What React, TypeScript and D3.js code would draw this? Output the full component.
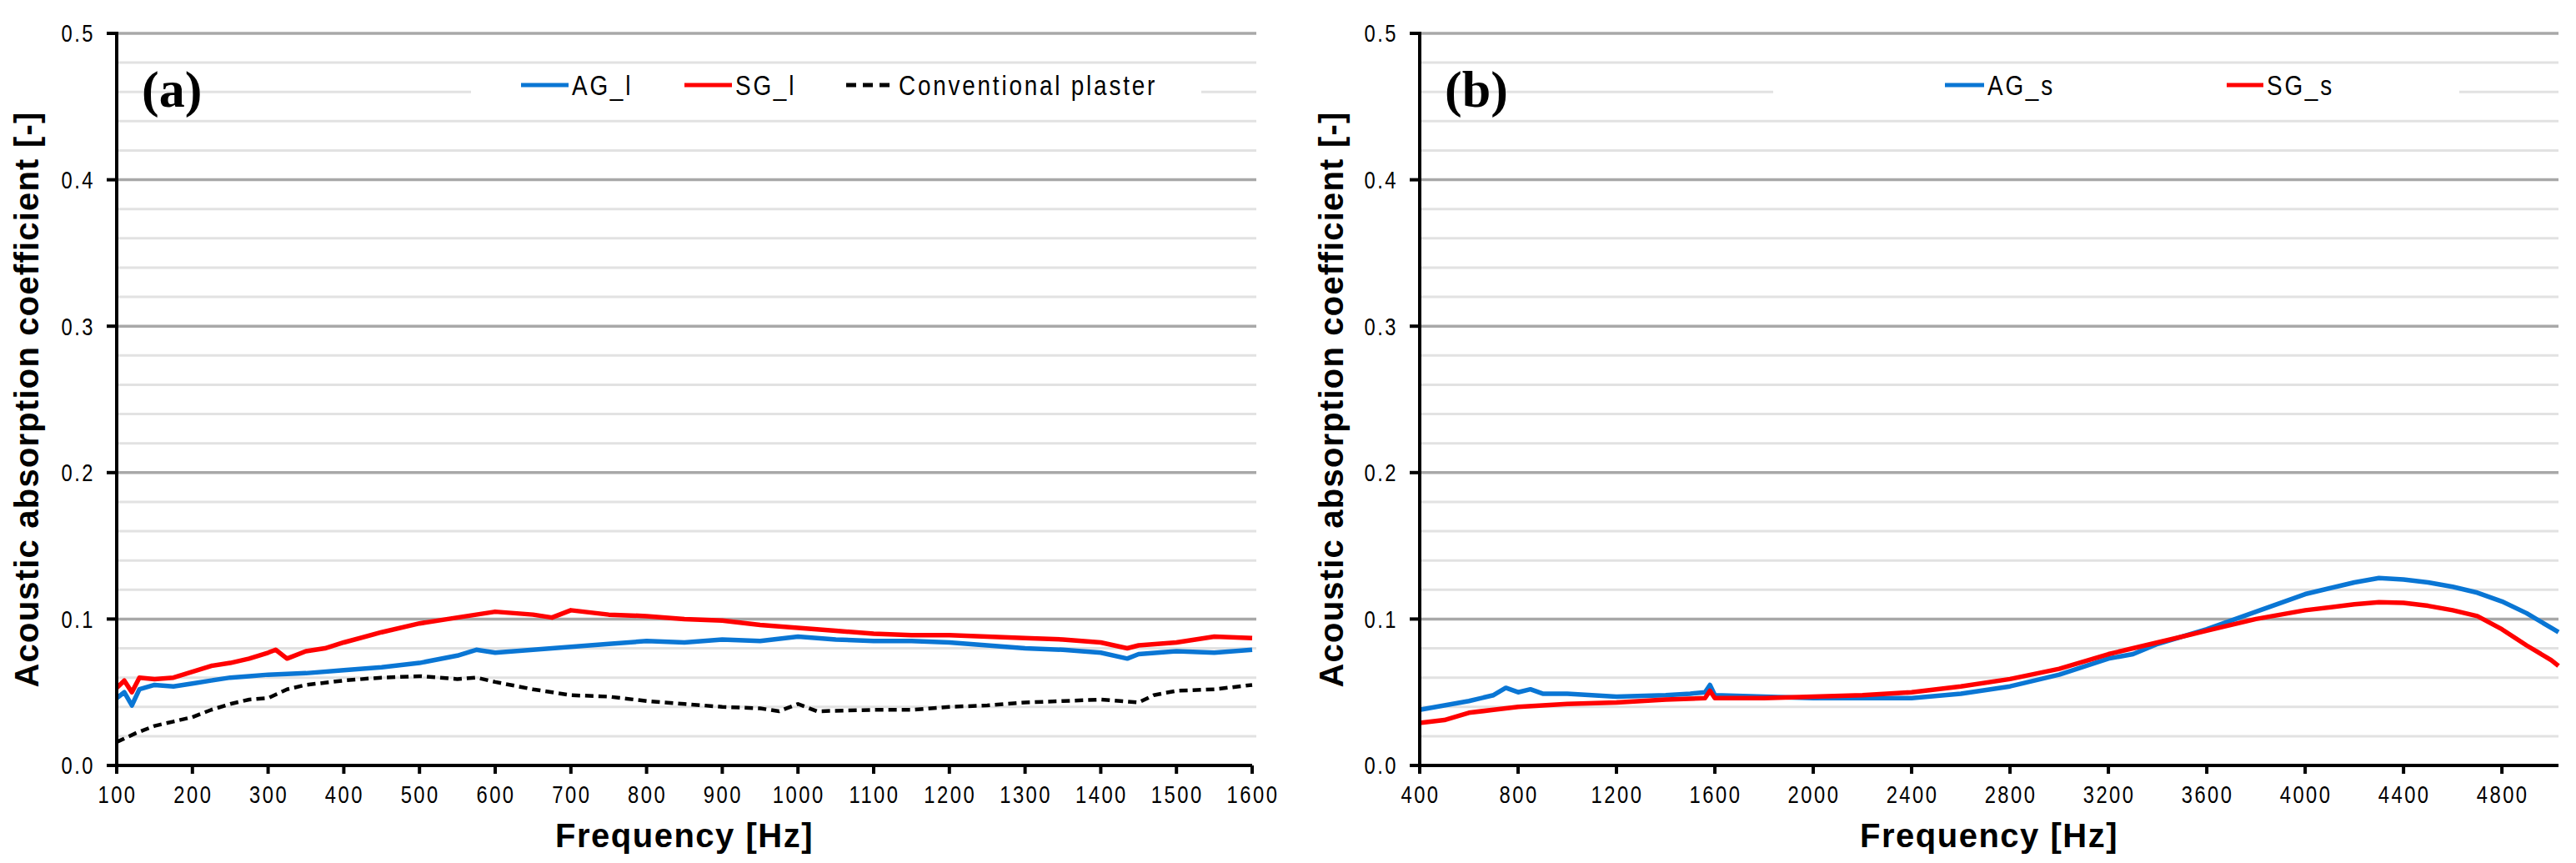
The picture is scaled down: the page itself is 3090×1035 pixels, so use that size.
import React, { useEffect } from "react";
import * as d3 from "d3";

// ---------- DATA ----------
const yTicks = [0.0, 0.1, 0.2, 0.3, 0.4, 0.5];
const yMinor = [0.02, 0.04, 0.06, 0.08, 0.12, 0.14, 0.16, 0.18, 0.22, 0.24, 0.26, 0.28, 0.32, 0.34, 0.36, 0.38, 0.42, 0.44, 0.46, 0.48];

const xTicksA = [100, 200, 300, 400, 500, 600, 700, 800, 900, 1000, 1100, 1200, 1300, 1400, 1500, 1600];
const xTicksB = [400, 800, 1200, 1600, 2000, 2400, 2800, 3200, 3600, 4000, 4400, 4800];

const freqAG_l = [100, 110, 120, 130, 150, 175, 200, 225, 250, 275, 300, 350, 400, 450, 500, 550, 575, 600, 650, 700, 750, 800, 850, 900, 950, 1000, 1050, 1100, 1150, 1200, 1250, 1300, 1350, 1400, 1435, 1450, 1500, 1550, 1600];
const valAG_l = [0.046, 0.050, 0.041, 0.052, 0.055, 0.054, 0.056, 0.058, 0.060, 0.061, 0.062, 0.063, 0.065, 0.067, 0.070, 0.075, 0.079, 0.077, 0.079, 0.081, 0.083, 0.085, 0.084, 0.086, 0.085, 0.088, 0.086, 0.085, 0.085, 0.084, 0.082, 0.080, 0.079, 0.077, 0.073, 0.076, 0.078, 0.077, 0.079];

const freqSG_l = [100, 110, 120, 130, 150, 175, 200, 225, 250, 275, 300, 310, 325, 350, 375, 400, 450, 500, 550, 600, 650, 675, 700, 750, 800, 850, 900, 950, 1000, 1050, 1100, 1150, 1200, 1250, 1300, 1350, 1400, 1435, 1450, 1500, 1550, 1600];
const valSG_l = [0.053, 0.058, 0.050, 0.060, 0.059, 0.060, 0.064, 0.068, 0.070, 0.073, 0.077, 0.079, 0.073, 0.078, 0.080, 0.084, 0.091, 0.097, 0.101, 0.105, 0.103, 0.101, 0.106, 0.103, 0.102, 0.100, 0.099, 0.096, 0.094, 0.092, 0.090, 0.089, 0.089, 0.088, 0.087, 0.086, 0.084, 0.080, 0.082, 0.084, 0.088, 0.087];

const freqConv = [100, 125, 150, 175, 200, 225, 250, 275, 300, 325, 350, 400, 450, 500, 550, 575, 600, 650, 700, 750, 800, 850, 900, 950, 975, 1000, 1025, 1100, 1150, 1200, 1250, 1300, 1350, 1400, 1450, 1470, 1500, 1550, 1600];
const valConv = [0.016, 0.022, 0.027, 0.030, 0.033, 0.038, 0.042, 0.045, 0.046, 0.052, 0.055, 0.058, 0.060, 0.061, 0.059, 0.060, 0.057, 0.052, 0.048, 0.047, 0.044, 0.042, 0.040, 0.039, 0.037, 0.042, 0.037, 0.038, 0.038, 0.040, 0.041, 0.043, 0.044, 0.045, 0.043, 0.048, 0.051, 0.052, 0.055];

const freqAG_s = [400, 500, 600, 700, 750, 800, 850, 900, 1000, 1100, 1200, 1400, 1500, 1560, 1580, 1600, 1800, 2000, 2200, 2400, 2600, 2800, 3000, 3200, 3300, 3400, 3600, 3800, 4000, 4200, 4300, 4400, 4500, 4600, 4700, 4800, 4900, 5000, 5030];
const valAG_s = [0.038, 0.041, 0.044, 0.048, 0.053, 0.050, 0.052, 0.049, 0.049, 0.048, 0.047, 0.048, 0.049, 0.050, 0.055, 0.048, 0.047, 0.046, 0.046, 0.046, 0.049, 0.054, 0.062, 0.073, 0.076, 0.083, 0.093, 0.105, 0.117, 0.125, 0.128, 0.127, 0.125, 0.122, 0.118, 0.112, 0.104, 0.094, 0.091];

const freqSG_s = [400, 500, 600, 700, 800, 900, 1000, 1200, 1400, 1560, 1580, 1600, 1800, 2000, 2200, 2400, 2600, 2800, 3000, 3200, 3400, 3600, 3800, 4000, 4200, 4300, 4400, 4500, 4600, 4700, 4800, 4900, 5000, 5030];
const valSG_s = [0.029, 0.031, 0.036, 0.038, 0.040, 0.041, 0.042, 0.043, 0.045, 0.046, 0.051, 0.046, 0.046, 0.047, 0.048, 0.050, 0.054, 0.059, 0.066, 0.076, 0.084, 0.092, 0.100, 0.106, 0.110, 0.1115, 0.111, 0.109, 0.106, 0.102, 0.093, 0.082, 0.072, 0.068];

// ---------- STYLE ----------
const BLUE = "#0a76d4";
const RED = "#ff0000";
const BLACK = "#000000";
const SANS = "'Liberation Sans',Arial,sans-serif";
const SERIF = "'Liberation Serif','Times New Roman',serif";
const NARROW_SCALE = 0.82;

type Series = { name: string; x: number[]; y: number[]; color: string; dash?: string };
type LegendItem = { name: string; color: string; dash?: string; x0: number; x1: number };

function NarrowText(props: { x: number; y: number; size: number; spacing: number; anchor?: string; dy?: string; children: React.ReactNode }) {
  return (
    <g transform={`translate(${props.x},${props.y}) scale(${NARROW_SCALE},1)`}>
      <text x={0} y={0} dy={props.dy} textAnchor={props.anchor || "start"} fontFamily={SANS} fontSize={props.size}
        letterSpacing={props.spacing / NARROW_SCALE} fill="#000">{props.children}</text>
    </g>
  );
}

function Panel(props: {
  x0: number; x1: number; gridEnd: number;
  xDomain: [number, number]; xTicks: number[];
  series: Series[]; legend: LegendItem[]; legendBox: [number, number];
  tag: string; titleX: number;
}) {
  const top = 40, bottom = 918;
  const x = d3.scaleLinear().domain(props.xDomain).range([props.x0, props.x1]);
  const y = d3.scaleLinear().domain([0, 0.5]).range([bottom, top]);
  const line = d3.line<[number, number]>().x(d => x(d[0])).y(d => y(d[1]));
  const mid = (props.x0 + props.x1) / 2;
  return (
    <g>
      {yMinor.map(v => (
        <line key={"m" + v} x1={props.x0} x2={props.gridEnd} y1={y(v)} y2={y(v)} stroke="#e2e2e2" strokeWidth={3} />
      ))}
      {yTicks.filter(v => v > 0).map(v => (
        <line key={"M" + v} x1={props.x0} x2={props.gridEnd} y1={y(v)} y2={y(v)} stroke="#a8a8a8" strokeWidth={3.5} />
      ))}
      {/* legend background */}
      <rect x={props.legendBox[0]} y={84} width={props.legendBox[1] - props.legendBox[0]} height={40} fill="#ffffff" />
      {props.legend.map(l => (
        <g key={l.name}>
          <line x1={l.x0} x2={l.x1} y1={102} y2={102} stroke={l.color} strokeWidth={5} strokeDasharray={l.dash} />
          <NarrowText x={l.x1 + 4} y={114} size={34} spacing={2.8}>{l.name}</NarrowText>
        </g>
      ))}
      {props.series.map(s => (
        <path key={s.name} d={line(s.x.map((v, i) => [v, s.y[i]] as [number, number])) || ""} fill="none"
          stroke={s.color} strokeWidth={s.dash ? 4.5 : 5.5} strokeDasharray={s.dash} strokeLinejoin="round" />
      ))}
      {/* axes */}
      <line x1={props.x0} x2={props.x0} y1={top - 2} y2={bottom + 2} stroke="#000" strokeWidth={4} />
      <line x1={props.x0 - 2} x2={props.x1} y1={bottom} y2={bottom} stroke="#000" strokeWidth={4} />
      {yTicks.map(v => (
        <g key={"yt" + v}>
          <line x1={props.x0 - 12} x2={props.x0} y1={y(v)} y2={y(v)} stroke="#000" strokeWidth={4} />
          <NarrowText x={props.x0 - 26} y={y(v)} dy="0.36em" anchor="end" size={29} spacing={2.5}>{v.toFixed(1)}</NarrowText>
        </g>
      ))}
      {props.xTicks.map(v => (
        <g key={"xt" + v}>
          <line x1={x(v)} x2={x(v)} y1={bottom} y2={bottom + 10} stroke="#000" strokeWidth={4} />
          <NarrowText x={x(v) + 1} y={963} anchor="middle" size={29} spacing={2.5}>{v}</NarrowText>
        </g>
      ))}
      <text x={mid} y={1016} textAnchor="middle" fontFamily={SANS} fontWeight="bold" fontSize={40} letterSpacing={1.5} fill="#000">Frequency [Hz]</text>
      <text transform={`translate(${props.titleX},${(top + bottom) / 2}) rotate(-90)`} textAnchor="middle" fontFamily={SANS} fontWeight="bold" fontSize={40} letterSpacing={1.2} fill="#000">Acoustic absorption coefficient [-]</text>
      <text x={props.x0 + 30} y={128} fontFamily={SERIF} fontWeight="bold" fontSize={62} fill="#000">{props.tag}</text>
    </g>
  );
}

export default function App() {
  useEffect(() => {
    document.body.style.margin = "0";
  }, []);
  const seriesA: Series[] = [
    { name: "AG_l", x: freqAG_l, y: valAG_l, color: BLUE },
    { name: "SG_l", x: freqSG_l, y: valSG_l, color: RED },
    { name: "Conventional plaster", x: freqConv, y: valConv, color: BLACK, dash: "10 6" },
  ];
  const seriesB: Series[] = [
    { name: "AG_s", x: freqAG_s, y: valAG_s, color: BLUE },
    { name: "SG_s", x: freqSG_s, y: valSG_s, color: RED },
  ];
  const legendA: LegendItem[] = [
    { name: "AG_l", color: BLUE, x0: 625, x1: 682 },
    { name: "SG_l", color: RED, x0: 821, x1: 878 },
    { name: "Conventional plaster", color: BLACK, dash: "12 8", x0: 1015, x1: 1074 },
  ];
  const legendB: LegendItem[] = [
    { name: "AG_s", color: BLUE, x0: 2333, x1: 2380 },
    { name: "SG_s", color: RED, x0: 2671, x1: 2715 },
  ];
  return (
    <svg width={3090} height={1035} viewBox="0 0 3090 1035" style={{ display: "block", background: "#fff" }}>
      <rect x={0} y={0} width={3090} height={1035} fill="#fff" />
      <Panel x0={140} x1={1502} gridEnd={1507} xDomain={[100, 1600]} xTicks={xTicksA}
        series={seriesA} legend={legendA} legendBox={[565, 1441]} tag="(a)" titleX={46} />
      <Panel x0={1703} x1={3069} gridEnd={3069} xDomain={[400, 5030]} xTicks={xTicksB}
        series={seriesB} legend={legendB} legendBox={[2127, 2950]} tag="(b)" titleX={1611} />
    </svg>
  );
}
